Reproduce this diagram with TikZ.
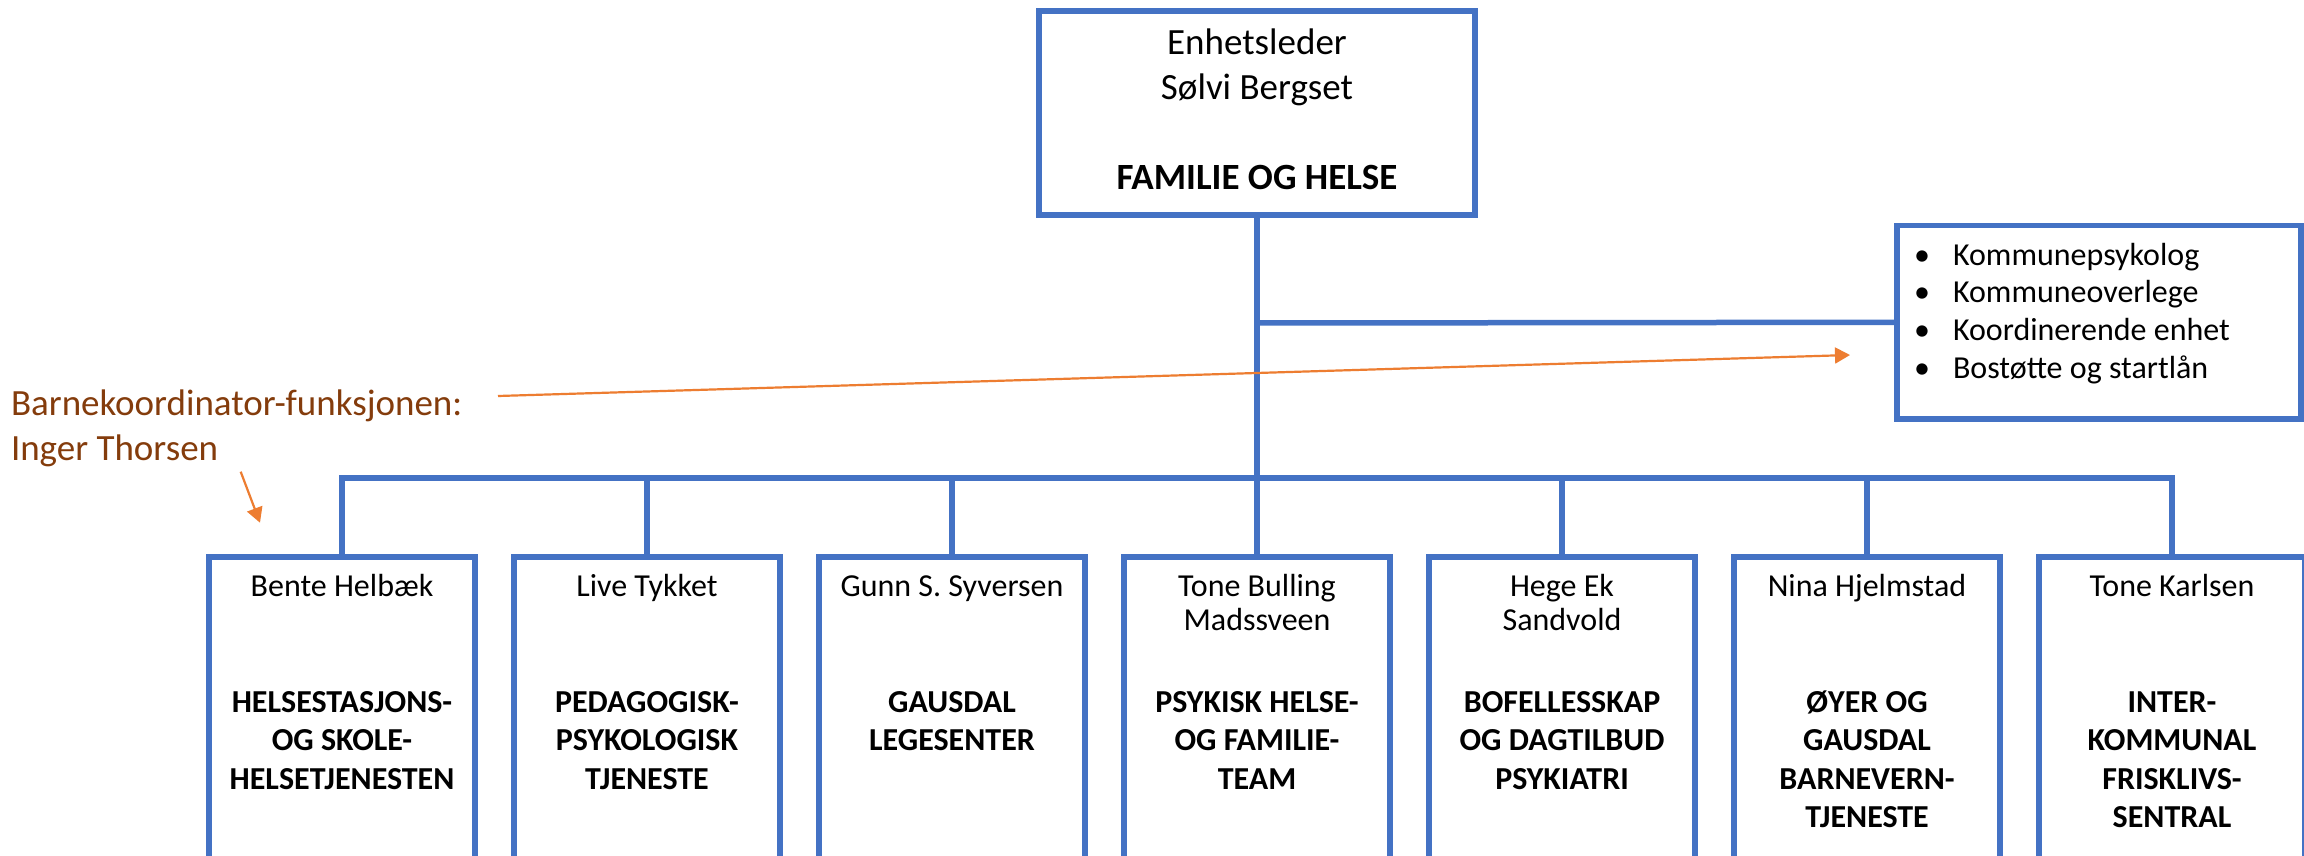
\documentclass[tikz,border=0pt]{standalone}
\usepackage{fontspec}
\setmainfont{Carlito}
\usetikzlibrary{arrows.meta}
\definecolor{orgblue}{HTML}{4472C4}
\definecolor{arrorange}{HTML}{ED7D31}
\definecolor{labelbrown}{HTML}{843C0C}
\begin{document}
\begin{tikzpicture}[x=1pt,y=-1pt,
  unitbox/.style={draw=orgblue, line width=5.5pt, rectangle, inner sep=0pt, outer sep=0pt, fill=white},
  lowbox/.style={unitbox, anchor=north, minimum width=266pt, minimum height=400pt},
  link/.style={draw=orgblue, line width=5.5pt},
  txt/.style={inner sep=0pt, outer sep=0pt, anchor=base},
  namefont/.style={font=\fontsize{32}{34}\selectfont},
  unitfont/.style={font=\fontsize{32}{38.5}\selectfont\bfseries},
  pointer/.style={draw=arrorange, line width=2.2pt, -{Triangle[length=15pt,width=16pt]}}
]
\useasboundingbox (0,0) rectangle (2304,856);
\clip (0,0) rectangle (2304,856);
\fill[white] (0,0) rectangle (2304,856);

% top box
\node[unitbox, minimum width=436pt, minimum height=204pt] (top) at (1257,113) {};
\node[txt, font=\fontsize{37}{45}\selectfont] (toptext) at (1257,55)
  {\parbox[t]{420pt}{\centering Enhetsleder\\Sølvi Bergset\\[45pt]\textbf{FAMILIE OG HELSE}}};

% side box
\node[unitbox, minimum width=404pt, minimum height=193.5pt] (side) at (2099,322.3) {};
\node[txt, anchor=base west, font=\fontsize{32}{37.7}\selectfont] (sidetext) at (1922,265)
  {\parbox[t]{360pt}{\raggedright
    \makebox[0pt]{•}\hspace{31pt}Kommunepsykolog\\
    \makebox[0pt]{•}\hspace{31pt}Kommuneoverlege\\
    \makebox[0pt]{•}\hspace{31pt}Koordinerende enhet\\
    \makebox[0pt]{•}\hspace{31pt}Bostøtte og startlån}};

% bottom boxes
\node[lowbox] (b1) at (342,557) {};
\node[lowbox] (b2) at (647,557) {};
\node[lowbox] (b3) at (952,557) {};
\node[lowbox] (b4) at (1257,557) {};
\node[lowbox] (b5) at (1562,557) {};
\node[lowbox] (b6) at (1867,557) {};
\node[lowbox] (b7) at (2172,557) {};

% connectors
\coordinate (j1) at (1257,323);
\coordinate (j2) at (1257,478);
\draw[link] (top.south) -- (j2);
\draw[link] (j1) -- (side.west);
\draw[link, line join=miter] (b1.north) |- (j2) -| (b7.north);
\foreach \i in {2,3,4,5,6} {\draw[link] (b\i.north) -- (b\i.north |- j2);}

% names
\node[txt, namefont] (n1) at (342,596) {\parbox[t]{260pt}{\centering Bente Helbæk}};
\node[txt, namefont] (n2) at (647,596) {\parbox[t]{260pt}{\centering Live Tykket}};
\node[txt, namefont] (n3) at (952,596) {\parbox[t]{260pt}{\centering Gunn S. Syversen}};
\node[txt, namefont] (n4) at (1257,596) {\parbox[t]{260pt}{\centering Tone Bulling\\Madssveen}};
\node[txt, namefont] (n5) at (1562,596) {\parbox[t]{260pt}{\centering Hege Ek\\Sandvold}};
\node[txt, namefont] (n6) at (1867,596) {\parbox[t]{260pt}{\centering Nina Hjelmstad}};
\node[txt, namefont] (n7) at (2172,596) {\parbox[t]{260pt}{\centering Tone Karlsen}};

% unit names
\node[txt, unitfont] (u1) at (342,712) {\parbox[t]{262pt}{\centering HELSESTASJONS-\\OG SKOLE-\\HELSETJENESTEN}};
\node[txt, unitfont] (u2) at (647,712) {\parbox[t]{262pt}{\centering PEDAGOGISK-\\PSYKOLOGISK\\TJENESTE}};
\node[txt, unitfont] (u3) at (952,712) {\parbox[t]{262pt}{\centering GAUSDAL\\LEGESENTER}};
\node[txt, unitfont] (u4) at (1257,712) {\parbox[t]{262pt}{\centering PSYKISK HELSE-\\OG FAMILIE-\\TEAM}};
\node[txt, unitfont] (u5) at (1562,712) {\parbox[t]{262pt}{\centering BOFELLESSKAP\\OG DAGTILBUD\\PSYKIATRI}};
\node[txt, unitfont] (u6) at (1867,712) {\parbox[t]{262pt}{\centering ØYER OG\\GAUSDAL\\BARNEVERN-\\TJENESTE}};
\node[txt, unitfont] (u7) at (2172,712) {\parbox[t]{262pt}{\centering INTER-\\KOMMUNAL\\FRISKLIVS-\\SENTRAL}};

% label and pointers
\node[txt, anchor=base west, text=labelbrown, font=\fontsize{37}{45}\selectfont] (lbl) at (11,415)
  {\parbox[t]{480pt}{\raggedright Barnekoordinator-funksjonen:\\Inger Thorsen}};
\coordinate (p1s) at (498,396);
\coordinate (p1e) at (1850,355);
\coordinate (p2s) at (240.7,471.7);
\coordinate (p2e) at (260,522.7);
\draw[pointer] (p1s) -- (p1e);
\draw[pointer] (p2s) -- (p2e);
\end{tikzpicture}
\end{document}
